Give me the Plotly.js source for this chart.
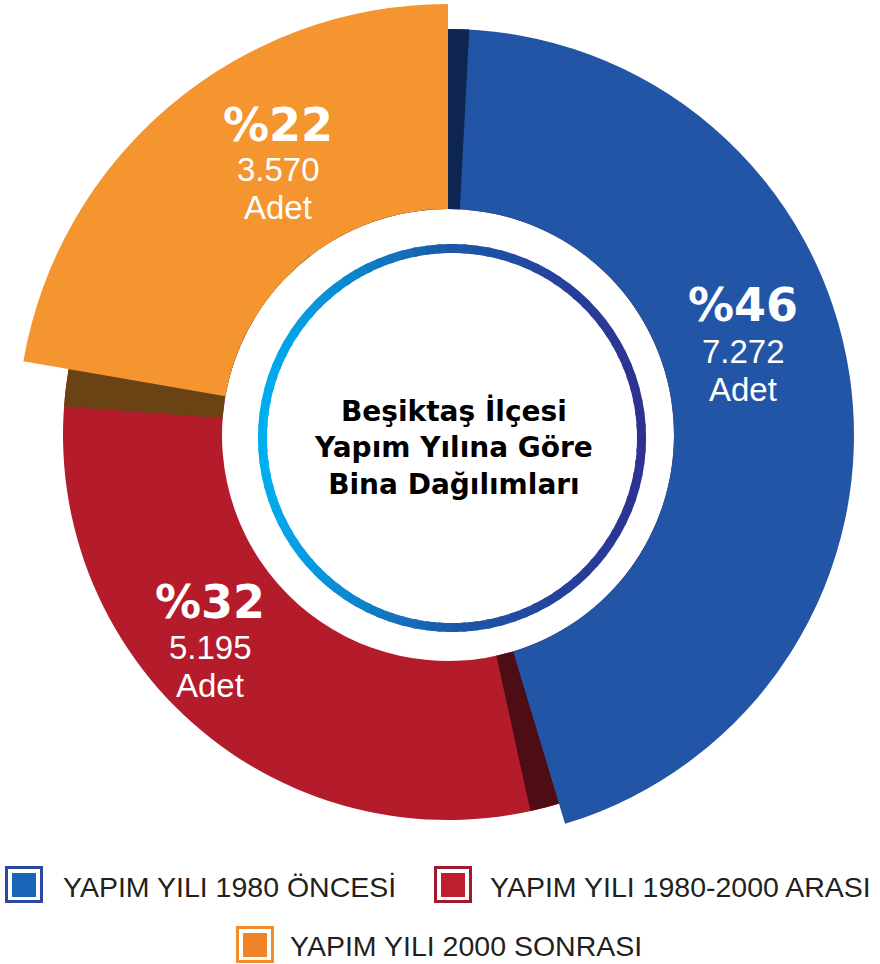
<!DOCTYPE html>
<html><head><meta charset="utf-8">
<script src="https://cdn.plot.ly/plotly-3.0.1.min.js"></script>
<style>html,body{margin:0;padding:0;background:#fff}#chart{width:880px;height:964px}</style>
</head><body><div id="chart"></div>
<script>
// ---- data ----
const categories = ['YAPIM YILI 1980 ÖNCESİ', 'YAPIM YILI 1980-2000 ARASI', 'YAPIM YILI 2000 SONRASI'];
const buildingCounts = [7272, 5195, 3570];
const percentLabels = ['%46', '%32', '%22'];
const unitLabel = 'Adet';
const centerTitle = ['Beşiktaş İlçesi', 'Yapım Yılına Göre', 'Bina Dağılımları'];

// ---- styling / layout ----
const W = 880, H = 964;
const CX = 448, CY = 435, HOLE_R = 226;
const sliceColors = ['#2255a6', '#b41c2c', '#f4952f'];
const shadowColors = ['#0f2650', '#4e0c14', '#6b4213'];
const sliceRadii = [406, 385, 431];
const legendFill = ['#1766b8', '#be1e2d', '#ef8426'];
const legendFrame = ['#2a4aa0', '#a3182c', '#f28c28'];

const fx = x => x / W;
const fy = y => 1 - y / H;
function domainFor(R) {
  return {x: [(CX - R) / W, (CX + R) / W], y: [1 - (CY + R) / H, 1 - (CY - R) / H]};
}
function pieTrace(idx, color, R, rotation) {
  const colors = categories.map((_, i) => i === idx ? color : 'rgba(0,0,0,0)');
  return {
    type: 'pie', labels: categories, values: buildingCounts, sort: false,
    direction: 'clockwise', rotation: rotation, hole: HOLE_R / R, domain: domainFor(R),
    marker: {colors: colors, line: {width: 0}}, textinfo: 'none', hoverinfo: 'skip',
    showlegend: false
  };
}
const traces = [
  pieTrace(1, sliceColors[1], sliceRadii[1], 0),
  pieTrace(0, shadowColors[1], sliceRadii[1], 4.4),
  pieTrace(0, sliceColors[0], sliceRadii[0], 0),
  pieTrace(2, shadowColors[0], sliceRadii[0], 3),
  pieTrace(2, shadowColors[2], sliceRadii[1], -5.6),
  pieTrace(2, sliceColors[2], sliceRadii[2], 0)
];

const shapes = [];
// gradient ring in the centre
const RCX = 452, RCY = 438, RR = 189.5;
function lerpColor(stops, t) {
  for (let k = 0; k < stops.length - 1; k++) {
    const a = stops[k], b = stops[k + 1];
    if (t <= b[0]) {
      const u = (t - a[0]) / (b[0] - a[0]);
      const c = a[1].map((v, j) => Math.round(v + (b[1][j] - v) * u));
      return 'rgb(' + c.join(',') + ')';
    }
  }
  return 'rgb(' + stops[stops.length - 1][1].join(',') + ')';
}
const ringStops = [[0, [0, 174, 239]], [0.5, [27, 88, 168]], [1, [46, 49, 146]]];
const NSEG = 96;
for (let s = 0; s < NSEG; s++) {
  const a0 = (s / NSEG) * 2 * Math.PI - 0.01, a1 = ((s + 1) / NSEG) * 2 * Math.PI + 0.01;
  let path = '';
  for (let k = 0; k <= 3; k++) {
    const a = a0 + (a1 - a0) * k / 3;
    const x = RCX + RR * Math.cos(a), y = RCY + RR * Math.sin(a);
    path += (k === 0 ? 'M' : 'L') + fx(x).toFixed(5) + ',' + fy(y).toFixed(5);
  }
  const am = (a0 + a1) / 2;
  const t = (Math.cos(am) + 1) / 2;
  shapes.push({type: 'path', xref: 'paper', yref: 'paper', path: path,
    line: {color: lerpColor(ringStops, t), width: 9}, layer: 'above'});
}

// legend
const legendPos = [[5, 866, 62, 887], [434, 866, 489, 887], [236, 926, 289, 946]];
const annotations = [];
categories.forEach((c, i) => {
  const [lx, ly, tx, ty] = legendPos[i];
  shapes.push({type: 'rect', xref: 'paper', yref: 'paper', x0: fx(lx + 1.5), x1: fx(lx + 36.5),
    y0: fy(ly + 1.5), y1: fy(ly + 35.5), line: {color: legendFrame[i], width: 3}, fillcolor: 'rgba(0,0,0,0)'});
  shapes.push({type: 'rect', xref: 'paper', yref: 'paper', x0: fx(lx + 7), x1: fx(lx + 31),
    y0: fy(ly + 7), y1: fy(ly + 31), line: {width: 0}, fillcolor: legendFill[i]});
  annotations.push({xref: 'paper', yref: 'paper', x: fx(tx), y: fy(ty), xanchor: 'left', yanchor: 'middle',
    showarrow: false, borderpad: 0, text: c, font: {family: 'Liberation Sans, Arial, sans-serif', size: 28.5, color: '#231f20'}});
});

// slice labels
const fmt = v => String(v).replace(/\B(?=(\d{3})+(?!\d))/g, '.');
const labelPos = [[743, 305, 351, 389], [210, 602, 647, 685], [278, 125, 169, 207]];
categories.forEach((c, i) => {
  const [x, y1, y2, y3] = labelPos[i];
  annotations.push({xref: 'paper', yref: 'paper', x: fx(x), y: fy(y1), xanchor: 'center', yanchor: 'middle',
    showarrow: false, borderpad: 0, text: '<b>' + percentLabels[i] + '</b>', font: {family: 'DejaVu Sans, sans-serif', size: 46, color: '#ffffff'}});
  annotations.push({xref: 'paper', yref: 'paper', x: fx(x), y: fy(y2), xanchor: 'center', yanchor: 'middle',
    showarrow: false, borderpad: 0, text: fmt(buildingCounts[i]), font: {family: 'Liberation Sans, Arial, sans-serif', size: 33, color: '#ffffff'}});
  annotations.push({xref: 'paper', yref: 'paper', x: fx(x), y: fy(y3), xanchor: 'center', yanchor: 'middle',
    showarrow: false, borderpad: 0, text: unitLabel, font: {family: 'Liberation Sans, Arial, sans-serif', size: 33, color: '#ffffff'}});
});

// centre title
annotations.push({xref: 'paper', yref: 'paper', x: fx(454), y: fy(447), xanchor: 'center', yanchor: 'middle',
  showarrow: false, borderpad: 0, align: 'center', text: centerTitle.map(s => '<b>' + s + '</b>').join('<br>'),
  font: {family: 'DejaVu Sans, sans-serif', size: 28, color: '#000000'}});

const layout = {
  width: W, height: H, margin: {l: 0, r: 0, t: 0, b: 0, pad: 0},
  paper_bgcolor: '#ffffff', plot_bgcolor: '#ffffff', showlegend: false,
  shapes: shapes, annotations: annotations
};
Plotly.newPlot('chart', traces, layout, {staticPlot: true, displayModeBar: false});
</script>
</body></html>
